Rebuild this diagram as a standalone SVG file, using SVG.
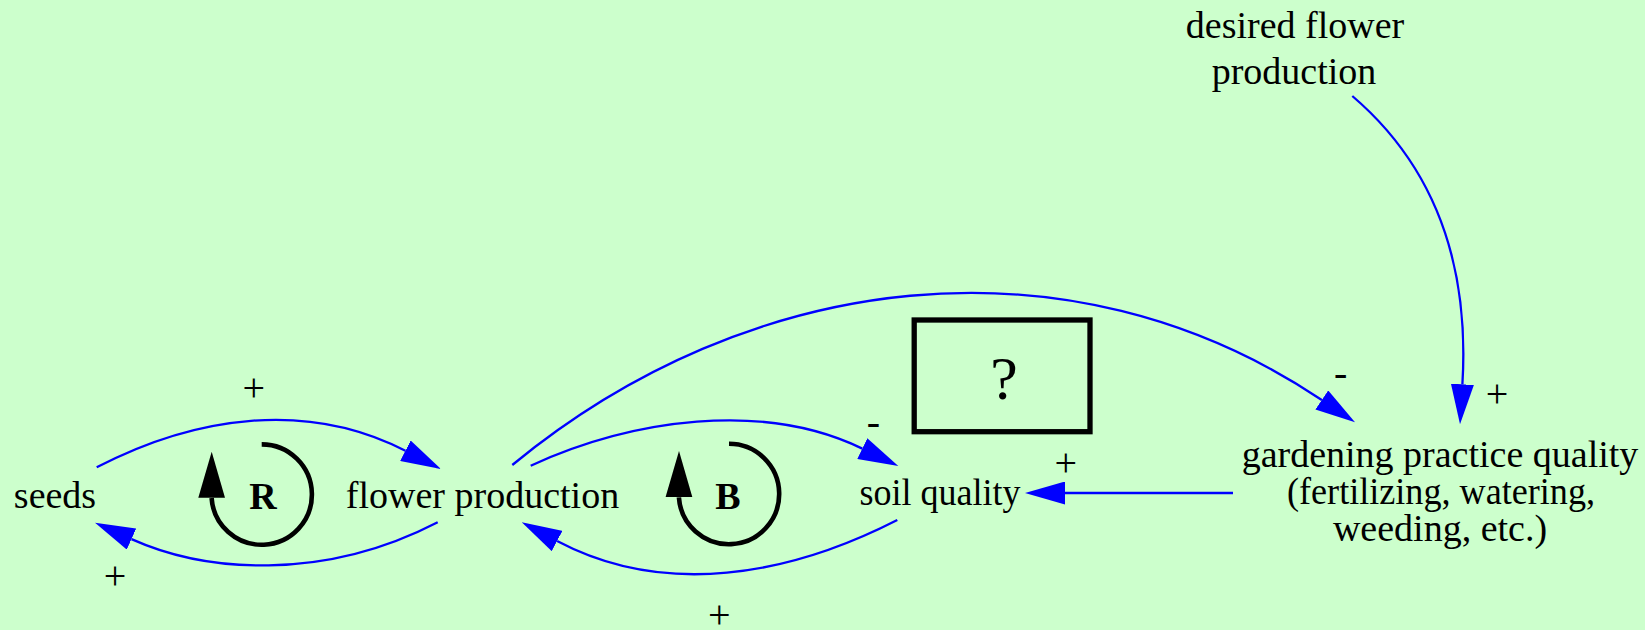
<svg xmlns="http://www.w3.org/2000/svg" width="1645" height="630" viewBox="0 0 1645 630" font-family="Liberation Serif, Times New Roman, Times, serif">
<style>
.node{font-size:38px;text-anchor:middle}
.lbl{font-size:40px;text-anchor:middle}
.loop{font-size:38px;font-weight:bold;text-anchor:middle}
.edge{fill:none;stroke:#0000ff;stroke-width:2.3;marker-end:url(#ah)}
.ring{fill:none;stroke:#000;stroke-width:4.6}
</style>
<defs>
<marker id="ah" markerUnits="userSpaceOnUse" viewBox="0 0 40 23" markerWidth="40" markerHeight="23" refX="0" refY="11.5" orient="auto">
<path d="M0,0 L40,11.5 L0,23 Z" fill="#0000ff"/>
</marker>
</defs>
<rect x="0" y="0" width="1645" height="630" fill="#ccffcc"/>
<g id="connectors">
<path class="edge" d="M96.7,467.3 C195.2,416.1 306.7,400 405.4,450.7"/>
<text class="lbl" x="253.7" y="400.5">+</text>
<path class="edge" d="M437.7,522.3 C322,582.1 204.5,571.9 131.5,539.1"/>
<text class="lbl" x="115" y="589">+</text>
<path class="edge" d="M530.7,465.7 C631.7,419.6 762.4,400.2 862.3,448.6"/>
<text class="lbl" x="873.3" y="435">-</text>
<path class="edge" d="M897.3,520 C788.7,575.5 664.9,598 557.1,541"/>
<text class="lbl" x="719.3" y="628">+</text>
<path class="edge" d="M512.3,465 C748,270.7 1067.8,229.6 1321.8,400"/>
<text class="lbl" x="1340.7" y="386">-</text>
<path class="edge" d="M1352.3,96 C1428.3,161 1470.2,254.3 1462.4,384.3"/>
<text class="lbl" x="1497" y="407">+</text>
<path class="edge" d="M1233,493 L1065,493"/>
<text class="lbl" x="1065.7" y="475.5">+</text>
</g>
<g id="loop-R">
<path class="ring" d="M261.7,444.4 A50.2,50.2 0 1 1 211.6,498"/>
<polygon points="211.7,451.7 198.3,497.7 225,497.7" fill="#000"/>
<text class="loop" x="263" y="509">R</text>
</g>
<g id="loop-B">
<path class="ring" d="M729,443.8 A50.2,50.2 0 1 1 678.9,497.4"/>
<polygon points="679,451.1 665.6,497.1 692.3,497.1" fill="#000"/>
<text class="loop" x="728" y="509">B</text>
</g>
<g id="seeds"><text class="node" x="55" y="508">seeds</text></g>
<g id="flower-production"><text class="node" x="482.5" y="508">flower production</text></g>
<g id="soil-quality"><text class="node" x="940" y="505" textLength="161" lengthAdjust="spacingAndGlyphs">soil quality</text></g>
<g id="gardening-practice-quality">
<text class="node" x="1440" y="466.5">gardening practice quality</text>
<text class="node" x="1441" y="504" textLength="308" lengthAdjust="spacingAndGlyphs">(fertilizing, watering,</text>
<text class="node" x="1440" y="541">weeding, etc.)</text>
</g>
<g id="desired-flower-production">
<text class="node" x="1295" y="37.5">desired flower</text>
<text class="node" x="1294" y="84">production</text>
</g>
<g id="unknown">
<rect x="914.2" y="320" width="175.8" height="111.7" fill="none" stroke="#000" stroke-width="5.3"/>
<text x="1004" y="399" font-size="62" text-anchor="middle">?</text>
</g>
</svg>
